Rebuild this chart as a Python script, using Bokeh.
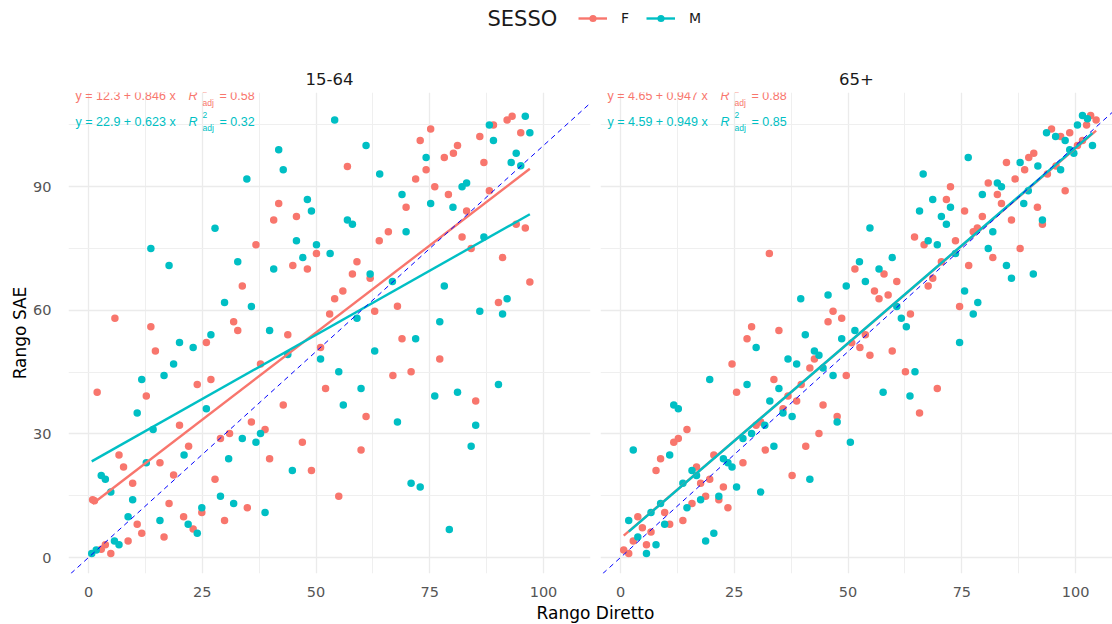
from bokeh.plotting import figure
from bokeh.models import Range1d, FixedTicker, Slope, Label, Legend, LegendItem
from bokeh.layouts import column, row
from bokeh.embed import file_html
from bokeh.resources import INLINE

FONT = "DejaVu Sans"
EQ_FONT = "Liberation Sans"
SAL = "#F8766D"
TEAL = "#00BFC4"

# ---------------- data ----------------
panels = ["15-64", "65+"]
sexes = ["F", "M"]
legend_title = "SESSO"
x_title = "Rango Diretto"
y_title = "Rango SAE"

young_F_x = [75.2, 72.9, 78.2, 80.2, 81.1, 86.0, 89.0, 92.0, 93.1, 95.0, 86.9, 74.2, 71.9, 76.1, 79.1, 88.1, 69.8,
             56.9, 41.8, 40.7, 45.7, 50.1, 36.8, 63.9, 65.9, 83.1, 82.1, 84.1, 94.0, 96.0, 59.0, 58.0, 61.9, 44.9,
             48.1, 33.8, 55.9, 54.1, 67.9, 62.9, 91.0, 97.0, 90.1,
             5.8, 13.7, 14.7, 31.9, 32.8, 25.9, 43.8, 53.0, 51.0, 37.8, 1.9, 12.7, 23.9, 26.9, 20.0, 22.0, 35.8, 38.8,
             31.0, 29.0, 42.8, 52.1, 61.0, 66.9, 68.9, 70.9, 77.2, 85.1, 59.9, 47.0, 39.8, 49.0, 55.0, 6.7, 7.7, 9.7,
             15.7, 18.7, 27.8, 0.9, 1.3, 17.7, 10.7, 11.7, 8.7, 16.6, 20.9, 23.0, 24.9, 29.9, 34.9, 3.7, 2.8, 4.9]
young_F_y = [104.0, 101.2, 97.1, 98.1, 100.0, 102.2, 105.0, 106.2, 107.1, 103.1, 95.9, 94.1, 91.9, 90.0, 88.1, 89.0,
             85.0, 94.9, 85.9, 81.9, 82.8, 73.8, 75.9, 76.9, 79.1, 84.1, 77.8, 75.0, 80.9, 80.0, 71.8, 68.8, 67.8,
             70.9, 70.0, 65.9, 64.7, 62.8, 61.0, 59.8, 72.8, 66.9, 61.9,
             58.1, 56.0, 50.1, 57.2, 55.1, 52.2, 54.1, 59.1, 51.0, 47.0, 40.1, 39.2, 42.0, 43.2, 32.1, 27.0, 32.9, 31.1,
             30.1, 28.9, 37.0, 41.0, 34.2, 44.2, 53.1, 45.1, 48.2, 38.0, 26.1, 28.0, 24.0, 21.1, 14.9, 24.9, 22.0, 18.0,
             23.0, 20.0, 19.0, 14.0, 13.8, 13.1, 8.1, 5.9, 4.0, 5.0, 9.9, 6.9, 10.9, 9.0, 12.1, 3.1, 2.0, 1.0]

young_M_x = [54.1, 41.8, 42.8, 34.8, 61.0, 64.0, 74.2, 88.1, 89.0, 96.0, 97.0, 94.0, 92.9, 95.0, 82.1, 83.1, 68.9,
             75.2, 80.1, 48.1, 49.0, 56.9, 58.0, 69.8, 86.9, 45.7, 50.1, 47.1, 53.1, 40.7, 32.8, 27.8, 13.7, 17.7,
             29.9, 35.8, 61.9, 66.8, 78.2, 92.0, 86.0,
             91.0, 77.2, 71.9, 62.9, 59.0, 51.0, 55.0, 59.9, 56.0, 67.9, 76.1, 81.1, 90.1, 85.1, 84.1, 70.9, 72.9, 79.3,
             39.8, 26.9, 20.0, 23.0, 18.7, 16.6, 11.7, 10.7, 14.2, 25.9, 12.7, 21.0, 30.8, 33.8, 36.8, 37.8, 43.8, 44.8,
             2.8, 3.7, 4.9, 9.7, 8.7, 15.7, 21.9, 23.9, 24.9, 29.0, 31.9, 38.8, 5.7, 6.7, 0.7, 1.7]
young_M_y = [106.2, 99.0, 94.1, 91.9, 100.0, 93.1, 97.1, 105.0, 101.2, 107.1, 103.1, 98.1, 95.9, 95.1, 90.0, 90.9, 88.1,
             85.9, 85.0, 86.9, 84.1, 81.9, 80.9, 79.1, 77.8, 76.9, 75.9, 72.8, 73.8, 70.0, 71.8, 79.9, 75.0, 70.9,
             61.9, 60.9, 68.8, 67.0, 65.9, 62.8, 59.8,
             59.1, 57.2, 53.1, 50.1, 58.1, 48.2, 45.1, 41.0, 37.0, 32.9, 39.2, 40.1, 42.0, 32.1, 27.0, 18.0, 17.1, 6.8,
             55.1, 54.1, 52.2, 51.0, 47.0, 44.2, 43.2, 35.1, 31.1, 36.1, 23.0, 24.9, 24.0, 28.9, 28.0, 30.1, 49.3, 21.1,
             19.9, 19.0, 15.9, 14.0, 9.9, 9.0, 8.1, 5.9, 12.1, 14.9, 13.1, 10.9, 4.0, 3.1, 1.0, 1.8]

old_F_x = [103.3, 104.5, 102.4, 94.7, 96.7, 98.7, 90.8, 89.7, 88.8, 84.8, 86.7, 80.8, 93.8, 95.7, 97.7, 100.4, 101.5,
           72.5, 71.6, 82.8, 83.7, 75.6, 79.5, 91.6, 92.7, 85.9, 78.4, 77.5, 73.6, 64.6, 66.7, 87.8, 76.5, 81.8, 70.5,
           68.6, 67.6, 32.7, 51.5, 57.9, 60.7, 55.8, 58.8, 56.8, 46.7, 74.5,
           63.7, 48.6, 45.6, 28.8, 34.8, 27.8, 53.8, 52.6, 54.8, 59.7, 50.8, 42.6, 41.6, 24.5, 33.7, 25.5, 49.6, 62.6,
           69.6, 65.7, 39.7, 36.8, 38.7, 35.7, 44.5, 47.6, 14.6, 12.7, 11.7, 30.8, 29.8, 43.6, 40.7, 31.8, 26.9, 37.7,
           8.8, 7.8, 16.7, 20.5, 17.6, 19.6, 22.6, 18.7, 21.6, 23.6, 15.7, 9.7, 13.7, 10.8, 3.8, 4.8, 6.7, 2.8, 5.7,
           0.7, 1.8]
old_F_y = [107.3, 106.2, 105.0, 104.0, 102.2, 103.1, 98.1, 97.1, 94.1, 95.9, 91.9, 90.9, 93.1, 95.0, 89.0, 100.0, 101.2,
           90.0, 86.9, 88.1, 85.9, 84.1, 82.8, 85.0, 80.9, 81.9, 80.0, 79.1, 76.9, 77.8, 75.9, 75.0, 70.9, 72.8, 71.8,
           67.8, 65.9, 73.8, 70.0, 68.8, 67.0, 64.7, 63.7, 62.8, 59.8, 60.9,
           59.1, 58.1, 57.2, 56.0, 55.1, 53.1, 54.1, 51.0, 49.1, 50.1, 52.1, 48.2, 46.0, 47.0, 43.2, 40.1, 44.2, 45.1,
           41.0, 35.1, 42.0, 39.2, 38.0, 36.1, 37.0, 34.2, 31.1, 28.9, 28.0, 32.9, 32.1, 30.1, 27.0, 26.1, 23.0, 19.9,
           24.0, 21.1, 22.0, 24.9, 18.0, 19.0, 17.1, 14.9, 14.0, 12.1, 13.1, 10.9, 9.0, 8.1, 9.9, 7.2, 6.2, 4.0, 3.1,
           1.8, 1.0]

old_M_x = [101.5, 102.6, 100.4, 93.6, 95.6, 97.7, 103.7, 98.7, 99.6, 76.4, 87.8, 91.7, 96.7, 66.5, 82.8, 83.7, 89.6,
           79.5, 68.6, 88.6, 72.5, 65.7, 70.5, 71.6, 92.7, 81.8, 54.8, 67.6, 69.6, 80.8, 73.6, 84.8, 85.9, 90.7, 59.7,
           52.5, 56.8, 53.8, 49.6, 45.6, 39.6, 75.6, 78.5, 60.7,
           77.5, 74.5, 61.7, 62.8, 51.5, 48.6, 40.6, 29.8, 42.6, 43.6, 36.8, 38.7, 44.5, 46.7, 64.7, 57.7, 63.6, 19.6,
           27.8, 34.8, 32.8, 35.7, 37.7, 47.6, 31.7, 28.8, 26.9, 33.7, 50.5, 11.7, 12.7, 2.8, 10.8, 22.6, 23.6, 24.5,
           15.7, 16.7, 13.7, 25.5, 30.8, 41.6, 21.6, 17.6, 14.6, 8.8, 6.7, 1.8, 9.7, 3.8, 7.8, 5.7, 18.7, 20.5]
old_M_y = [107.3, 106.5, 105.0, 103.1, 102.2, 101.2, 100.0, 99.0, 98.1, 97.1, 95.9, 95.0, 94.1, 93.1, 90.9, 90.0, 89.0,
           88.1, 86.9, 85.9, 85.0, 84.1, 82.8, 80.9, 81.9, 79.1, 80.0, 76.9, 75.9, 75.0, 73.8, 70.9, 67.8, 68.8, 72.8,
           71.8, 70.0, 67.0, 65.9, 63.7, 62.8, 64.7, 61.9, 60.9,
           59.1, 52.2, 58.1, 56.0, 55.1, 53.1, 54.1, 51.0, 50.1, 49.1, 48.2, 47.0, 46.0, 44.2, 45.1, 40.1, 39.2, 43.2,
           42.0, 41.0, 38.0, 35.1, 34.2, 32.9, 32.1, 30.1, 28.9, 27.0, 28.0, 37.0, 36.1, 26.1, 24.9, 24.0, 23.0, 22.0,
           21.1, 19.9, 18.0, 17.1, 15.9, 19.0, 14.9, 14.0, 12.1, 13.1, 10.9, 9.0, 8.1, 5.0, 3.1, 1.0, 4.0, 5.9]

# fitted lines (from the chart's equations), order F, M
fit_intercept_young = [12.3, 22.9]
fit_slope_young = [0.846, 0.623]
fit_r2_young = [0.58, 0.32]
fit_intercept_old = [4.65, 4.59]
fit_slope_old = [0.947, 0.949]
fit_r2_old = [0.88, 0.85]

x_ticks = [0, 25, 50, 75, 100]
x_minor = [12.5, 37.5, 62.5, 87.5]
y_ticks = [0, 30, 60, 90]
y_minor = [15, 45, 75, 105]

# ---------------- figures ----------------
y_rng = Range1d(-3.88, 112.87)


def make_panel(title, xs, ys, intercepts, slopes, r2s, width, x_end, show_y, mbl, mbr):
    p = figure(width=width, height=550, x_range=Range1d(-4.4, x_end), y_range=y_rng,
               toolbar_location=None, output_backend="svg", title=title,
               y_axis_location="left" if show_y else None,
               min_border_left=mbl, min_border_right=mbr, min_border_top=42, min_border_bottom=27)
    p.outline_line_color = None
    p.background_fill_color = "white"
    p.border_fill_color = "white"
    p.title.align = "center"
    p.title.text_font = FONT
    p.title.text_font_size = "16.5px"
    p.title.text_font_style = "normal"
    p.title.text_color = "#1A1A1A"
    p.title.standoff = 15

    xt = FixedTicker(ticks=x_ticks, minor_ticks=x_minor)
    yt = FixedTicker(ticks=y_ticks, minor_ticks=y_minor)
    p.xaxis.ticker = xt
    p.xgrid.ticker = xt
    p.ygrid.ticker = yt
    for g in (p.xgrid, p.ygrid):
        g.grid_line_color = "#EBEBEB"
        g.grid_line_width = 1.3
        g.minor_grid_line_color = "#EFEFEF"
        g.minor_grid_line_width = 1.0
    axes = [p.xaxis[0]]
    if show_y:
        p.yaxis.ticker = yt
        p.yaxis.axis_label = y_title
        p.yaxis.axis_label_text_font = FONT
        p.yaxis.axis_label_text_font_size = "17px"
        p.yaxis.axis_label_text_font_style = "normal"
        p.yaxis.axis_label_text_color = "#000000"
        p.yaxis.axis_label_standoff = 0
        p.yaxis.major_label_standoff = 11
        axes.append(p.yaxis[0])
    p.xaxis.major_label_standoff = 7
    for ax in axes:
        ax.axis_line_color = None
        ax.major_tick_line_color = None
        ax.minor_tick_line_color = None
        ax.major_label_text_font = FONT
        ax.major_label_text_font_size = "14.5px"
        ax.major_label_text_color = "#555555"

    colors = [SAL, TEAL]
    for i, col in enumerate(colors):
        p.scatter(xs[i], ys[i], size=7.5, fill_color=col, line_color=None)
    for i, col in enumerate(colors):
        x0, x1 = min(xs[i]), max(xs[i])
        p.line([x0, x1], [intercepts[i] + slopes[i] * x0, intercepts[i] + slopes[i] * x1],
               line_color=col, line_width=2.4)
    p.add_layout(Slope(gradient=1, y_intercept=0, line_color="blue", line_dash="5 4", line_width=1))

    rows_y = [111.9, 105.8]
    for i, col in enumerate(colors):
        ry = rows_y[i]
        common = dict(x=-2.85, text_color=col, text_font=EQ_FONT, text_baseline="middle")
        p.add_layout(Label(y=ry, text=f"y = {intercepts[i]:g} + {slopes[i]:g} x", text_font_size="12.5px",
                           x_offset=0, **common))
        p.add_layout(Label(y=ry, text="R", text_font_size="12.5px", text_font_style="italic",
                           x_offset=113, **common))
        p.add_layout(Label(y=ry + 1.5, text="2", text_font_size="8.5px", x_offset=127, **common))
        p.add_layout(Label(y=ry - 1.6, text="adj", text_font_size="8.5px", x_offset=127, **common))
        p.add_layout(Label(y=ry, text=f"= {r2s[i]:.2f}", text_font_size="12.5px", x_offset=144, **common))
    return p


left = make_panel(panels[0], [young_F_x, young_M_x], [young_F_y, young_M_y],
                  fit_intercept_young, fit_slope_young, fit_r2_young, 596, 110.33, True, 68, 6)
right = make_panel(panels[1], [old_F_x, old_M_x], [old_F_y, old_M_y],
                   fit_intercept_old, fit_slope_old, fit_r2_old, 516, 108.1, False, 4, 0)

# header with legend (legend renderers hold one off-canvas placeholder point so their glyphs are drawn)
hdr = figure(width=1112, height=50, x_range=Range1d(0, 1112), y_range=Range1d(0, 50),
             toolbar_location=None, output_backend="svg", min_border=0,
             x_axis_location=None, y_axis_location=None)
hdr.grid.visible = False
hdr.outline_line_color = None
hdr.add_layout(Label(x=487, y=32, text=legend_title, text_baseline="middle", text_align="left",
                     text_font=FONT, text_font_size="21px", text_color="#1A1A1A"))
items = []
for s, col in zip(sexes, [SAL, TEAL]):
    rl = hdr.line(x=[-999, -998], y=[-999, -999], line_color=col, line_width=2.4)
    rp = hdr.scatter(x=[-999], y=[-999], size=7.5, fill_color=col, line_color=None)
    items.append(LegendItem(label=s, renderers=[rl, rp]))
leg = Legend(items=items, orientation="horizontal",
             location=(578, 23), border_line_color=None, background_fill_alpha=0,
             glyph_width=29, glyph_height=18, label_standoff=14, label_width=10, spacing=15,
             padding=0, margin=0,
             label_text_font=FONT, label_text_font_size="14px", label_text_color="#1A1A1A")
hdr.add_layout(leg, "center")

# footer with x-axis title
ftr = figure(width=1112, height=24, x_range=Range1d(0, 1112), y_range=Range1d(0, 24),
             toolbar_location=None, output_backend="svg", min_border=0,
             x_axis_location=None, y_axis_location=None)
ftr.grid.visible = False
ftr.outline_line_color = None
ftr.add_layout(Label(x=595, y=12, text=x_title, text_align="center", text_baseline="middle",
                     text_font=FONT, text_font_size="17px", text_color="#000000"))

layout = column(hdr, row(left, right), ftr)
open("out.html", "w").write(file_html(layout, INLINE))
